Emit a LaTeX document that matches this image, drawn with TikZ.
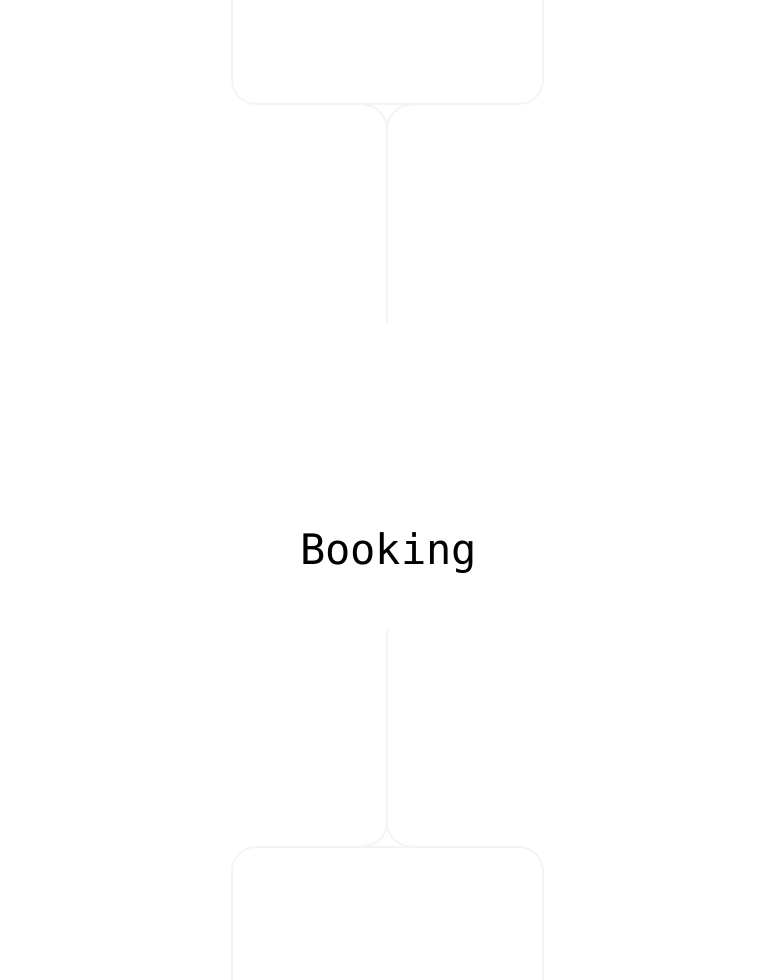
\documentclass[tikz,border=0pt]{standalone}
\usepackage{fontspec}
\newfontfamily\monofont{DejaVu Sans Mono}
\definecolor{faint}{HTML}{F3F3F3}
\begin{document}
\begin{tikzpicture}[x=1pt,y=-1pt,
  panel/.style={draw=faint,line width=1.6pt,rounded corners=24pt,minimum width=311pt,minimum height=220pt,inner sep=0pt},
  link/.style={draw=faint,line width=1.6pt,rounded corners=24pt},
  label/.style={font=\monofont\fontsize{42}{50}\selectfont,text=black,inner sep=0pt}]
\useasboundingbox[fill=white] (0,0) rectangle (774,980);
\clip (0,0) rectangle (774,980);
\node[panel] (top) at (387.5,-6) {};
\node[panel] (bot) at (387.5,957) {};
\node[label,anchor=base] (book) at (388.5,564) {Booking};
\coordinate (tstem) at (387,322);
\coordinate (bstem) at (387,630);
\draw[link] ([xshift=-25pt]top.south) -| (tstem);
\draw[link] ([xshift=25pt]top.south) -| (tstem);
\draw[link] ([xshift=-25pt]bot.north) -| (bstem);
\draw[link] ([xshift=25pt]bot.north) -| (bstem);
\end{tikzpicture}
\end{document}
